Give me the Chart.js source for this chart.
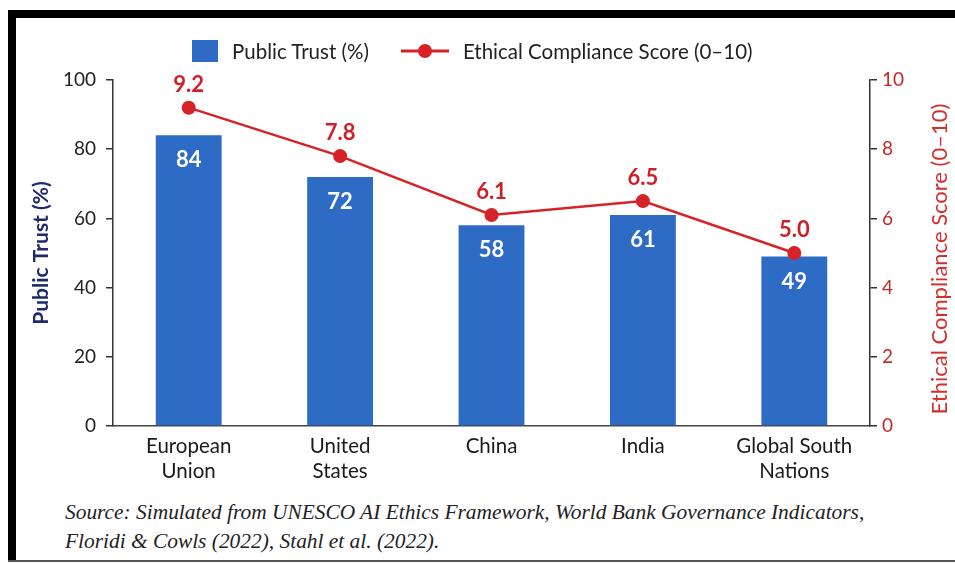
<!DOCTYPE html>
<html>
<head>
<meta charset="utf-8">
<script src="https://cdn.jsdelivr.net/npm/chart.js@4.4.1/dist/chart.umd.min.js"></script>
<style>
    html, body { margin: 0; padding: 0; background: #fff; }
    body { width: 955px; height: 563px; position: relative; overflow: hidden; font-family: Lato, 'Open Sans', sans-serif; }
    .frame { position: absolute; background: #000; z-index: 3; }
    #frameTop { left: 8px; top: 10px; width: 947px; height: 8px; }
    #frameLeft { left: 8px; top: 10px; width: 8px; height: 552px; }
    #frameBottom { left: 8px; top: 560px; width: 947px; height: 2px; background: #555; }
    #chartBox { position: absolute; left: 0; top: 0; width: 955px; height: 490px; }
    #legend { position: absolute; left: 192px; top: 39px; display: flex; align-items: center; font-size: 20.5px; color: #222; z-index: 2; }
    .legend-item { display: flex; align-items: center; }
    .legend-item + .legend-item { margin-left: 32px; }
    .swatch { margin-right: 14px; }
    #source { position: absolute; left: 65px; top: 498px; font-family: 'Liberation Serif', serif; font-style: italic; font-size: 21.4px; line-height: 29px; color: #222; }
</style>
</head>
<body>
<div class="frame" id="frameTop"></div>
<div class="frame" id="frameLeft"></div>
<div class="frame" id="frameBottom"></div>
<div id="chartBox"><canvas id="trustChart" width="955" height="490"></canvas></div>
<div id="legend"></div>
<div id="source">Source: Simulated from UNESCO AI Ethics Framework, World Bank Governance Indicators,<br>Floridi &amp; Cowls (2022), Stahl et al. (2022).</div>

<script>
// Data
const categories = [['European', 'Union'], ['United', 'States'], ['China'], ['India'], ['Global South', 'Nations']];
const trustValues = [84, 72, 58, 61, 49];
const scoreValues = [9.2, 7.8, 6.1, 6.5, 5.0];
const trustTicks = [0, 20, 40, 60, 80, 100];
const scoreTicks = [0, 2, 4, 6, 8, 10];

const barBlue = '#2d6bc4';
const lineRed = '#d62328';
const scoreTitle = 'Ethical Compliance Score (0–10)';

// White numbers inside bars, red numbers above points
const valueLabels = {
    id: 'valueLabels',
    afterDatasetsDraw(chart) {
        const ctx = chart.ctx;
        ctx.save();
        ctx.textAlign = 'center';
        ctx.textBaseline = 'middle';
        ctx.font = 'bold 22px Lato, sans-serif';
        ctx.fillStyle = '#fff';
        chart.getDatasetMeta(0).data.forEach((bar, i) => {
            ctx.fillText(String(trustValues[i]), bar.x, bar.y + 25);
        });
        ctx.fillStyle = '#cf1f27';
        chart.getDatasetMeta(1).data.forEach((pt, i) => {
            ctx.fillText(scoreValues[i].toFixed(1), pt.x, pt.y - 23);
        });
        ctx.restore();
    }
};

// Right axis title reads bottom-to-top in the reference
const rightTitle = {
    id: 'rightTitle',
    afterDraw(chart) {
        const scale = chart.scales.y1;
        const ctx = chart.ctx;
        ctx.save();
        ctx.translate(scale.right - 15, (scale.top + scale.bottom) / 2 + 6);
        ctx.rotate(-Math.PI / 2);
        ctx.textAlign = 'center';
        ctx.textBaseline = 'middle';
        ctx.font = '22px Lato, sans-serif';
        ctx.fillStyle = '#d32f2f';
        ctx.fillText(scoreTitle, 0, 0);
        ctx.restore();
    }
};

document.addEventListener('DOMContentLoaded', function () {
    const chart = new Chart(document.getElementById('trustChart'), {
        data: {
            labels: categories,
            datasets: [{
                type: 'bar',
                label: 'Public Trust (%)',
                data: trustValues,
                backgroundColor: barBlue,
                borderWidth: 0,
                barPercentage: 0.435,
                categoryPercentage: 1,
                yAxisID: 'y',
                order: 2
            }, {
                type: 'line',
                label: scoreTitle,
                data: scoreValues,
                borderColor: lineRed,
                backgroundColor: lineRed,
                borderWidth: 2.5,
                tension: 0,
                pointRadius: 7,
                pointBackgroundColor: lineRed,
                pointBorderWidth: 0,
                yAxisID: 'y1',
                order: 1
            }]
        },
        options: {
            responsive: false,
            animation: false,
            layout: { padding: { top: 80, left: 22, right: 0, bottom: 0 } },
            plugins: {
                legend: { display: false },
                tooltip: { enabled: false }
            },
            scales: {
                x: {
                    offset: true,
                    grid: { display: false },
                    border: { color: '#444', width: 1.5 },
                    ticks: {
                        color: '#1a1a1a',
                        font: { family: 'Lato', size: 20.5, lineHeight: 1.22 },
                        padding: 0,
                        maxRotation: 0
                    },
                    afterFit(scale) { scale.height = 64; }
                },
                y: {
                    position: 'left',
                    min: trustTicks[0],
                    max: trustTicks[trustTicks.length - 1],
                    ticks: {
                        stepSize: trustTicks[1] - trustTicks[0],
                        color: '#222',
                        font: { family: 'Lato', size: 19 },
                        padding: 10
                    },
                    grid: { drawOnChartArea: false, tickLength: 7, color: '#333', lineWidth: 1.5 },
                    border: { color: '#333', width: 1.5 },
                    title: {
                        display: true,
                        text: 'Public Trust (%)',
                        color: '#1f2a6b',
                        font: { family: 'Lato', size: 21, weight: 'bold' },
                        padding: { top: 7, bottom: 0 }
                    },
                    afterFit(scale) { scale.width = 91; }
                },
                y1: {
                    position: 'right',
                    min: scoreTicks[0],
                    max: scoreTicks[scoreTicks.length - 1],
                    ticks: {
                        stepSize: scoreTicks[1] - scoreTicks[0],
                        color: '#c62828',
                        font: { family: 'Lato', size: 19 },
                        padding: 5
                    },
                    grid: { drawOnChartArea: false, tickLength: 7, color: '#333', lineWidth: 1.5 },
                    border: { color: '#333', width: 1.5 },
                    title: { display: false },
                    afterFit(scale) { scale.width = 85; }
                }
            }
        },
        plugins: [valueLabels, rightTitle]
    });

    // HTML legend built from the datasets
    const legend = document.getElementById('legend');
    chart.data.datasets.forEach(ds => {
        const item = document.createElement('div');
        item.className = 'legend-item';
        const sw = document.createElement('canvas');
        sw.className = 'swatch';
        const sctx = sw.getContext('2d');
        if (ds.type === 'bar') {
            sw.width = 26; sw.height = 22;
            sctx.fillStyle = ds.backgroundColor;
            sctx.fillRect(0, 0, 26, 22);
        } else {
            sw.width = 48; sw.height = 22;
            sctx.strokeStyle = ds.borderColor;
            sctx.lineWidth = 3;
            sctx.beginPath(); sctx.moveTo(0, 11); sctx.lineTo(48, 11); sctx.stroke();
            sctx.fillStyle = ds.borderColor;
            sctx.beginPath(); sctx.arc(24, 11, 7, 0, Math.PI * 2); sctx.fill();
        }
        const txt = document.createElement('span');
        txt.textContent = ds.label;
        item.appendChild(sw);
        item.appendChild(txt);
        legend.appendChild(item);
    });
});
</script>
</body>
</html>
